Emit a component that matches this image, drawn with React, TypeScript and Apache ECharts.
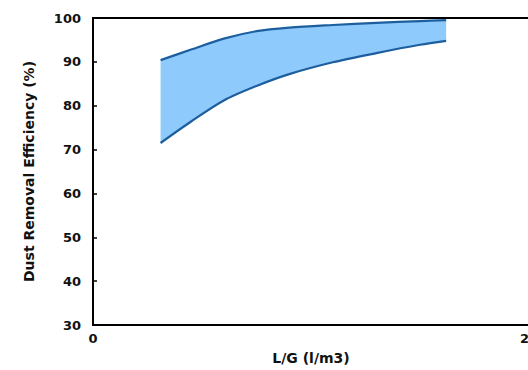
import React, { useEffect, useRef } from "react";
import * as echarts from "echarts";

const lgValues = [3.1, 4.5, 6, 7.5, 9, 11, 13, 15, 16.2];
const upperEfficiency = [90.4, 92.8, 95.3, 97.0, 97.8, 98.4, 98.9, 99.3, 99.5];
const lowerEfficiency = [71.5, 76.4, 81.2, 84.5, 87.2, 89.9, 92.0, 93.9, 94.8];
const xTitle = "L/G (l/m3)";
const yTitle = "Dust Removal Efficiency (%)";

export default function App() {
  const ref = useRef<HTMLDivElement>(null);
  useEffect(() => {
    if (!ref.current) return;
    const chart = echarts.init(ref.current, undefined, { renderer: "svg" });
    const font = "DejaVu Sans";
    const upper = lgValues.map((x, i) => [x, upperEfficiency[i]]);
    const lower = lgValues.map((x, i) => [x, lowerEfficiency[i]]);
    chart.setOption({
      animation: false,
      backgroundColor: "#ffffff",
      grid: { left: 93, top: 18, right: -1, bottom: 45, containLabel: false, outerBoundsMode: "none" },
      xAxis: [
        {
          type: "value",
          min: 0,
          max: 20,
          interval: 20,
          z: 10,
          name: xTitle,
          nameLocation: "middle",
          nameGap: 26,
          nameTextStyle: { fontFamily: font, fontWeight: "bold", fontSize: 14, color: "#111" },
          axisLine: { show: true, lineStyle: { color: "#000", width: 2 } },
          axisTick: { show: true, inside: true, length: 4, lineStyle: { color: "#000", width: 1.5 } },
          axisLabel: { fontFamily: font, fontWeight: "bold", fontSize: 13, color: "#111", margin: 7 },
          splitLine: { show: false },
        },
        {
          type: "value",
          position: "top",
          min: 0,
          max: 20,
          z: 10,
          axisLine: { show: true, onZero: false, lineStyle: { color: "#000", width: 2 } },
          axisTick: { show: false },
          axisLabel: { show: false },
          splitLine: { show: false },
        },
      ],
      yAxis: {
        type: "value",
        min: 30,
        max: 100,
        interval: 10,
        z: 10,
        name: yTitle,
        nameLocation: "middle",
        nameGap: 57,
        nameTextStyle: { fontFamily: font, fontWeight: "bold", fontSize: 14, color: "#111" },
        axisLine: { show: true, lineStyle: { color: "#000", width: 2 } },
        axisTick: { show: true, inside: true, length: 4, lineStyle: { color: "#000", width: 1.5 } },
        axisLabel: { fontFamily: font, fontWeight: "bold", fontSize: 13, color: "#111", margin: 12 },
        splitLine: { show: false },
      },
      series: [
        {
          type: "custom",
          coordinateSystem: "cartesian2d",
          xAxisIndex: 0,
          yAxisIndex: 0,
          data: [[lgValues[0], upperEfficiency[0]]],
          z: 1,
          silent: true,
          renderItem: (params: any, api: any) => {
            const pts: number[][] = [];
            upper.forEach((p) => pts.push(api.coord(p)));
            for (let i = lower.length - 1; i >= 0; i--) pts.push(api.coord(lower[i]));
            return {
              type: "polygon",
              shape: { points: pts },
              style: { fill: "#8ecafb", stroke: "none" },
            };
          },
        },
        {
          type: "line",
          data: upper,
          smooth: 0.3,
          symbol: "none",
          lineStyle: { color: "#1d5f9e", width: 2.2 },
          z: 3,
        },
        {
          type: "line",
          data: lower,
          smooth: 0.3,
          symbol: "none",
          lineStyle: { color: "#1d5f9e", width: 2.2 },
          z: 3,
        },
      ],
    });
    return () => chart.dispose();
  }, []);
  return (
    <div
      ref={ref}
      style={{ position: "fixed", left: 0, top: 0, width: 528, height: 370 }}
    />
  );
}
